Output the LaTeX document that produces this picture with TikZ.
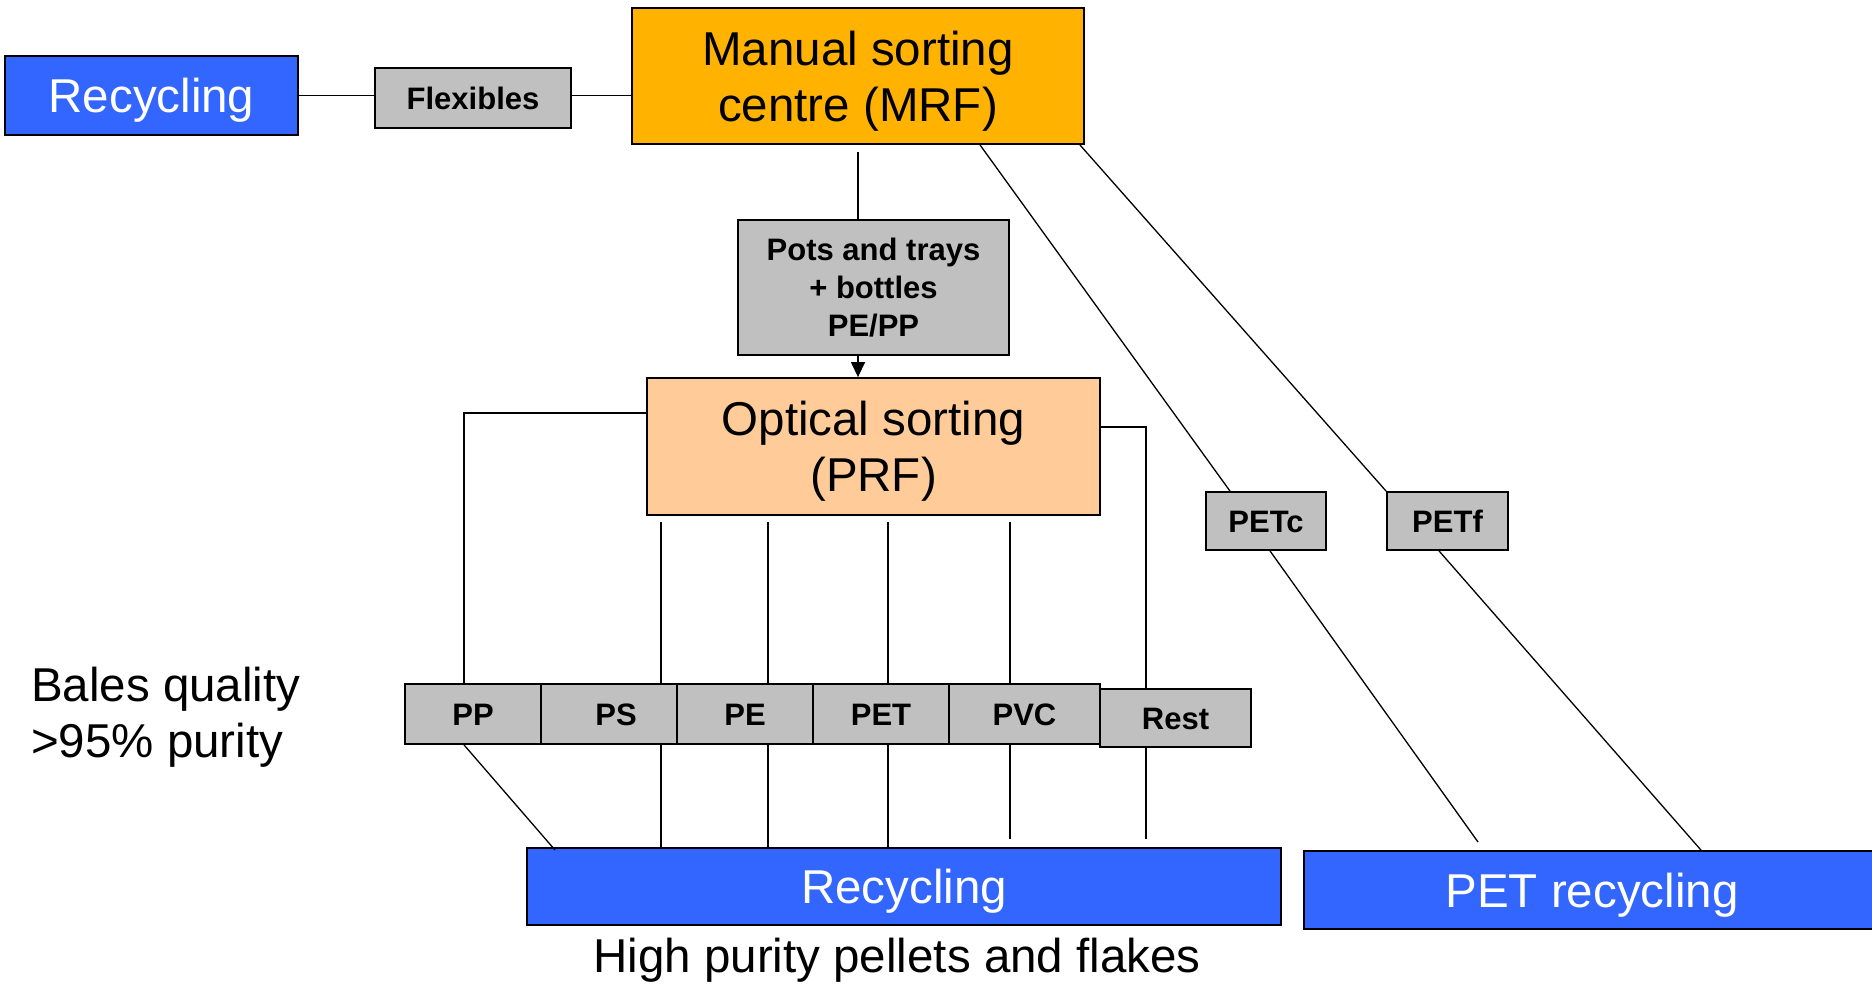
\documentclass[tikz,border=0pt]{standalone}
\usepackage{fontspec}
\setmainfont{Liberation Sans}
\usetikzlibrary{arrows.meta,calc}
\definecolor{recblue}{RGB}{51,102,255}
\definecolor{mrforange}{RGB}{255,179,0}
\definecolor{optpeach}{RGB}{255,204,153}
\definecolor{boxgray}{RGB}{192,192,192}
\begin{document}
\begin{tikzpicture}[x=1pt,y=-1pt,
  big/.style={font=\fontsize{47.5}{56}\selectfont},
  small/.style={font=\bfseries\fontsize{31}{38}\selectfont},
  box/.style={draw=black, line width=1.8pt, inner sep=0pt, align=center},
  bigone/.style={big, text height=34pt, text depth=0pt},
  bigtwo/.style={big, text height=34pt, text depth=56pt},
  smallone/.style={small, text height=22.3pt, text depth=0pt},
  bluebox/.style={box, fill=recblue, text=white, bigone},
  graybox/.style={box, fill=boxgray, smallone},
  conn/.style={line width=1.3pt}]
\useasboundingbox (0,0) rectangle (1872,983);
% boxes
\node[bluebox, minimum width=293pt, minimum height=79pt] (rec1) at (151.5,95.5) {Recycling};
\node[graybox, minimum width=196pt, minimum height=60pt] (flex) at (473,98) {Flexibles};
\node[box, fill=mrforange, bigtwo, minimum width=452pt, minimum height=136pt] (mrf) at (858,76) {\begin{tabular}[t]{@{}c@{}}Manual sorting\\centre (MRF)\end{tabular}};
\node[box, fill=boxgray, small, minimum width=271pt, minimum height=135pt] (pots) at (873.5,287.5) {Pots and trays\\+ bottles\\PE/PP};
\node[box, fill=optpeach, bigtwo, minimum width=453pt, minimum height=137pt] (opt) at (873.5,446.5) {\begin{tabular}[t]{@{}c@{}}Optical sorting\\(PRF)\end{tabular}};
\node[graybox, minimum width=136pt, minimum height=60pt] (PP) at (473,714) {PP};
\node[graybox, minimum width=136pt, minimum height=60pt] (PS) at (609,714) {\hspace*{14pt}PS};
\node[graybox, minimum width=136pt, minimum height=60pt] (PE) at (745,714) {PE};
\node[graybox, minimum width=136pt, minimum height=60pt] (PET) at (881,714) {PET};
\node[graybox, minimum width=151pt, minimum height=60pt] (PVC) at (1024.5,714) {PVC};
\node[graybox, minimum width=151pt, minimum height=58pt] (rest) at (1175.5,718) {Rest};
\node[graybox, minimum width=120pt, minimum height=58pt] (PETc) at (1266,521) {PETc};
\node[graybox, minimum width=121pt, minimum height=58pt] (PETf) at (1447.5,521) {PETf};
\node[bluebox, minimum width=754pt, minimum height=77pt] (rec2) at (904,886.5) {Recycling};
\node[bluebox, minimum width=576pt, minimum height=78pt] (petrec) at (1592,890) {PET recycling};
% free texts
\node[big, anchor=west, align=left, inner sep=0pt] (bales) at (31,717) {Bales quality\\>95\% purity};
\node[bigone, inner sep=0pt] (hp) at (897,955) {High purity pellets and flakes};
% coordinates
\coordinate (mrfout) at (858,152);
\coordinate (ppx) at (464,413);
\coordinate (rx) at (1146,427);
\coordinate (psx) at (661,522);
\coordinate (pex) at (768,522);
\coordinate (petx) at (888,522);
\coordinate (pvcx) at (1010,522);
\coordinate (restx) at (1146,522);
\coordinate (ppend) at (555,850);
\coordinate (pvcend) at (1010,839);
\coordinate (restend) at (1146,839);
\coordinate (petcend) at (1478,842);
% connectors
\draw[conn] (rec1.east) -- (rec1.east -| flex.west);
\draw[conn] (rec1.east -| flex.east) -- (rec1.east -| mrf.west);
\draw[conn] (mrfout) -- (mrfout |- pots.north);
\draw[conn, -{Triangle[length=15pt,width=14pt]}] (mrfout |- pots.south) -- (mrfout |- opt.north);
\draw[conn] (opt.west |- ppx) -- (ppx) -- (ppx |- PP.north);
\draw[conn] (opt.east |- rx) -- (rx) -- (rx |- rest.north);
\draw[conn] (psx) -- (psx |- PS.north);
\draw[conn] (pex) -- (pex |- PE.north);
\draw[conn] (petx) -- (petx |- PET.north);
\draw[conn] (pvcx) -- (pvcx |- PVC.north);
\draw[conn] (ppx |- PP.south) -- (ppend);
\draw[conn] (psx |- PS.south) -- (psx |- rec2.north);
\draw[conn] (pex |- PE.south) -- (pex |- rec2.north);
\draw[conn] (petx |- PET.south) -- (petx |- rec2.north);
\draw[conn] (pvcx |- PVC.south) -- (pvcend);
\draw[conn] (restx |- rest.south) -- (restend);
\draw[conn] ([xshift=122pt]mrf.south) -- ([xshift=-36pt]PETc.north);
\draw[conn] ([xshift=-5pt]mrf.south east) -- (PETf.north west);
\draw[conn] ([xshift=4pt]PETc.south) -- (petcend);
\draw[conn] ([xshift=-8.5pt]PETf.south) -- ([xshift=109pt]petrec.north);
\end{tikzpicture}
\end{document}
